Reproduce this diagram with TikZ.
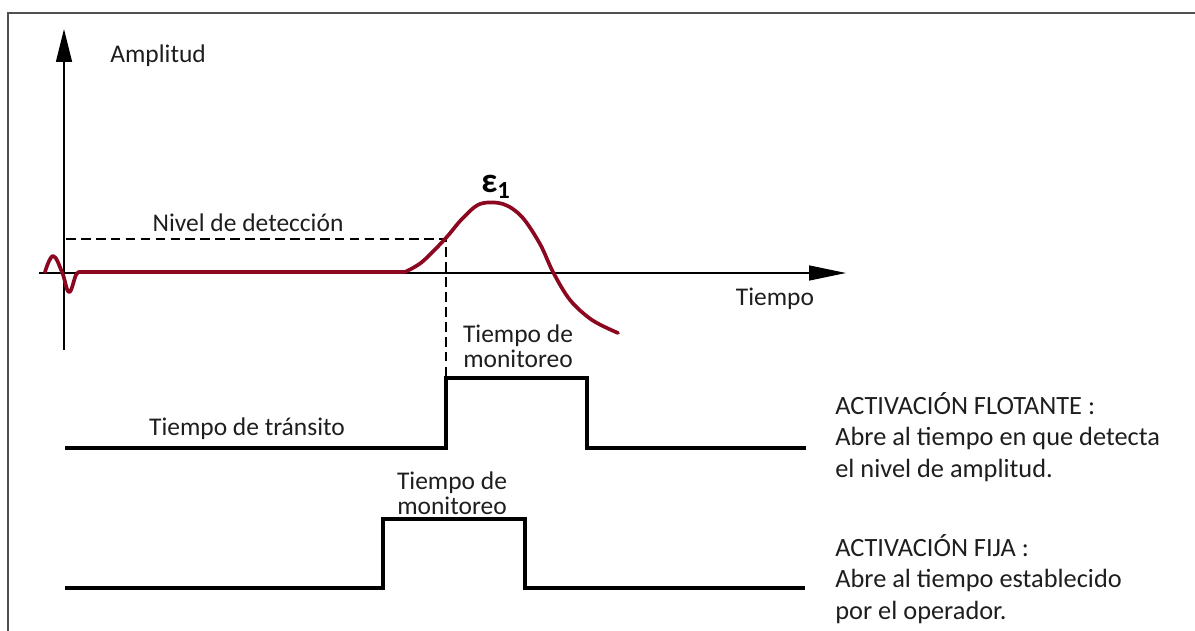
\documentclass[tikz,border=0pt]{standalone}
\usepackage{fontspec}
\setmainfont{Carlito}
\usetikzlibrary{arrows.meta, positioning}
\definecolor{senalRoja}{RGB}{140,8,32}
\definecolor{marcoGris}{RGB}{80,80,80}
\definecolor{textoGris}{RGB}{30,30,30}
\tikzset{
    diagrama/.style={x=0.02cm, y=-0.02cm, line join=miter},
    marco/.style={draw=marcoGris, line width=1.1pt},
    eje/.style={draw=black, line width=0.75pt},
    guia/.style={draw=black, line width=0.6pt, dash pattern=on 5.5pt off 3pt},
    senal/.style={draw=senalRoja, line width=2.1pt, line cap=round, line join=round},
    pulso/.style={draw=black, line width=1.8pt},
    etiqueta/.style={font=\fontsize{14.5}{16}\selectfont, text=textoGris, inner sep=0pt},
    etiquetaDos/.style={etiqueta, align=center,
                        font=\fontsize{14.5}{14.2}\selectfont},
    nota/.style={font=\fontsize{15}{17.9}\selectfont, text=textoGris,
                 align=left, anchor=west, inner sep=0pt},
}

\begin{document}
\begin{tikzpicture}[diagrama]
\useasboundingbox (0,0) rectangle (1195,631);

% marco
\draw[marco] (8,640) -- (8,13) -- (1200,13);

% ejes
\coordinate (ejeYbase) at (64,350);
\coordinate (ejeYtope) at (64,29);
\coordinate (ejeXbase) at (39,273);
\coordinate (ejeXtope) at (846,273);
\draw[eje, -{Triangle[length=0.66cm, width=0.32cm]}] (ejeYbase) -- (ejeYtope);
\draw[eje, -{Triangle[length=0.74cm, width=0.3cm]}] (ejeXbase) -- (ejeXtope);

\node[etiqueta, anchor=west] (amplitud) at (110,56) {Amplitud};
\node[etiqueta] (tiempo) at (775,299) {Tiempo};

% nivel de deteccion
\coordinate (nivelIni) at (66,239);
\coordinate (cruce) at (446,239);
\coordinate (cruceAbajo) at (446,378);
\draw[guia] (nivelIni) -- (cruce) -- (cruceAbajo);
\node[etiqueta] (nivel) at (248,223) {Nivel de detección};

% senal
\draw[senal] plot[smooth, tension=0.7] coordinates {(45,272) (53,256) (62,272) (69,292) (76,275) (80,272)}
    -- (405,272)
    -- plot[smooth, tension=0.55] coordinates {(405,272) (422,262) (445,239) (462,219) (480,204)
       (503,204) (522,217) (540,244) (553,272) (570,300) (592,320) (618,333)};
\node (eps) at (496,187) {\fontsize{20}{20}\selectfont\bfseries ε\textsubscript{1}};

% activacion flotante
\draw[pulso] (65,448) -- (446,448) -- (446,378) -- (587,378) -- (587,448) -- (806,448);
\node[etiqueta] (transito) at (247,429) {Tiempo de tránsito};
\node[etiquetaDos] (monitoreoUno) at (518,346) {Tiempo de\\monitoreo};

% activacion fija
\draw[pulso] (65,588) -- (383,588) -- (383,519) -- (525,519) -- (525,588) -- (805,588);
\node[etiquetaDos] (monitoreoDos) at (452,493) {Tiempo de\\monitoreo};

% notas
\node[nota] (flotante) at (835,437) {ACTIVACIÓN FLOTANTE :\\Abre al tiempo en que detecta\\el nivel de amplitud.};
\node[nota] (fija) at (835,579) {ACTIVACIÓN FIJA :\\Abre al tiempo establecido\\por el operador.};

\end{tikzpicture}
\end{document}
